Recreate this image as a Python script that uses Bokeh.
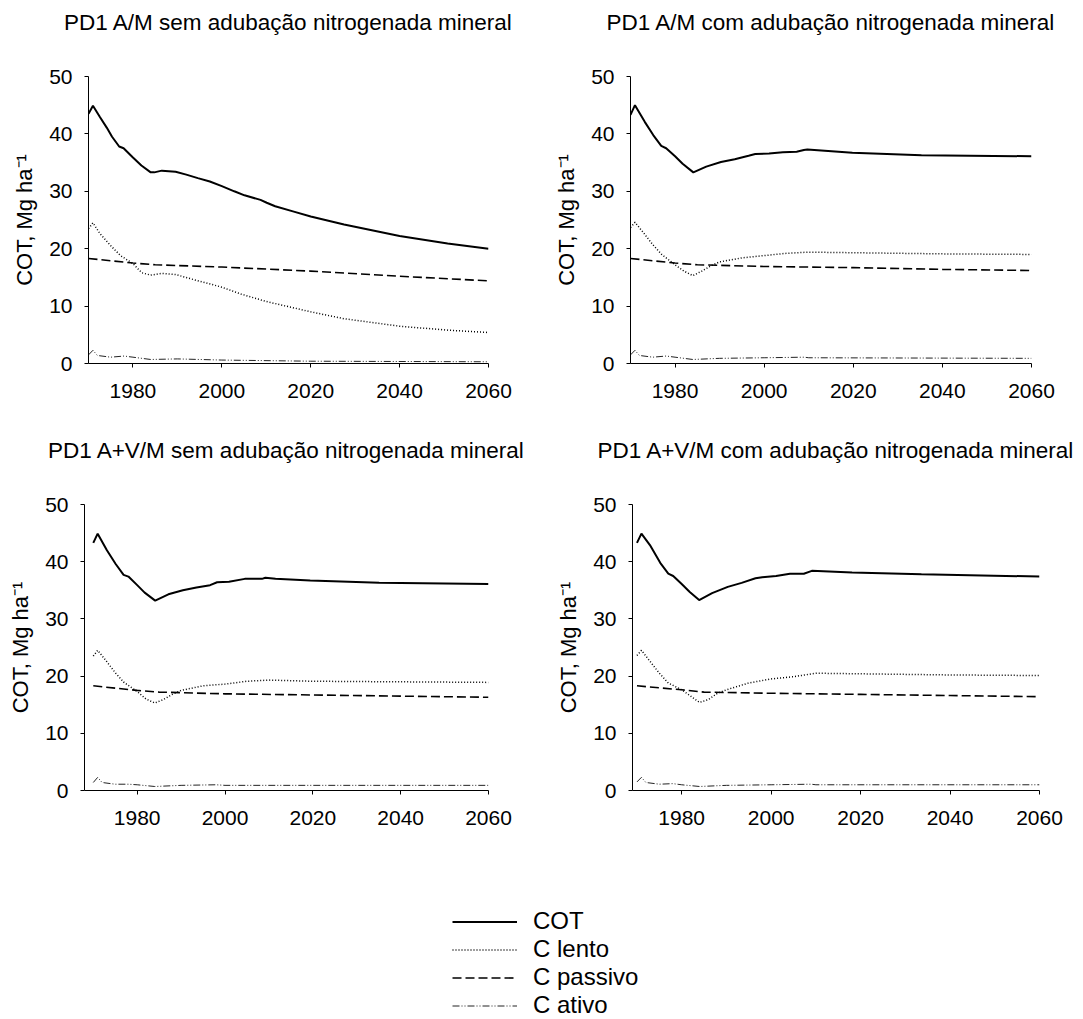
from bokeh.plotting import figure
from bokeh.models import Range1d, FixedTicker, Legend, LegendItem, Title
from bokeh.layouts import column, row
from bokeh.embed import file_html
from bokeh.resources import INLINE

FONT = "Liberation Sans"
TITLES = [
    "PD1 A/M sem adubação nitrogenada mineral",
    "PD1 A/M com adubação nitrogenada mineral",
    "PD1 A+V/M sem adubação nitrogenada mineral",
    "PD1 A+V/M com adubação nitrogenada mineral",
]
Y_LABEL = "COT, Mg ha⁻¹"
X_TICKS = [1980, 2000, 2020, 2040, 2060]
Y_TICKS = [0, 10, 20, 30, 40, 50]
SERIES = ["COT", "C lento", "C passivo", "C ativo"]

# ---- Panel 1: A/M sem adubação ----
p1_cot_x = [1970, 1971, 1972.6, 1974.1, 1975.3, 1976.9, 1977.9, 1980, 1981.9, 1984, 1984.8, 1986.5, 1989.6, 1992, 1994.6, 1997.3, 2000, 2002.8, 2005.1, 2008.7, 2010.1, 2012, 2016, 2020, 2027.5, 2040, 2050.8, 2060]
p1_cot_y = [43.5, 44.9, 42.9, 41.1, 39.5, 37.8, 37.5, 35.9, 34.5, 33.3, 33.3, 33.6, 33.4, 32.9, 32.3, 31.7, 30.9, 30.0, 29.3, 28.5, 28.0, 27.4, 26.5, 25.6, 24.2, 22.2, 20.9, 20.0]
p1_lento_x = [1970, 1971, 1972.6, 1974.9, 1977.2, 1980, 1982, 1984, 1986.5, 1989.6, 1994.2, 2000, 2004.3, 2010, 2020, 2027.5, 2040, 2051, 2060]
p1_lento_y = [23.5, 24.5, 22.6, 20.6, 18.8, 17.4, 15.8, 15.4, 15.7, 15.5, 14.5, 13.3, 12.1, 10.8, 9.0, 7.8, 6.5, 5.8, 5.4]
p1_pass_x = [1970, 1980, 1985, 2000, 2020, 2040, 2060]
p1_pass_y = [18.3, 17.5, 17.2, 16.8, 16.1, 15.2, 14.4]
p1_ativo_x = [1970, 1971, 1972, 1975, 1978, 1980, 1984, 1990, 2000, 2020, 2060]
p1_ativo_y = [1.5, 2.3, 1.4, 1.1, 1.3, 1.1, 0.7, 0.8, 0.6, 0.4, 0.3]

# ---- Panel 2: A/M com adubação ----
p2_cot_x = [1970, 1971, 1973.2, 1975.1, 1976.9, 1978, 1980, 1981.7, 1984.1, 1987, 1990.3, 1993.4, 1996.5, 1998, 2001.1, 2004.2, 2007.3, 2008.9, 2009.7, 2019.8, 2035.3, 2060]
p2_cot_y = [43.3, 45.0, 42.1, 39.8, 37.9, 37.5, 36.1, 34.8, 33.3, 34.3, 35.1, 35.6, 36.2, 36.5, 36.6, 36.8, 36.9, 37.2, 37.3, 36.7, 36.3, 36.1]
p2_lento_x = [1970, 1971, 1973, 1975, 1977, 1980, 1982, 1984, 1986, 1988, 1990, 1995, 2000, 2005, 2010, 2020, 2040, 2060]
p2_lento_y = [23.7, 24.6, 22.7, 20.7, 19.0, 17.2, 16.1, 15.3, 16.1, 17.0, 17.7, 18.4, 18.8, 19.2, 19.4, 19.3, 19.1, 19.0]
p2_pass_x = [1970, 1980, 1985, 2000, 2010, 2020, 2040, 2060]
p2_pass_y = [18.3, 17.5, 17.2, 16.9, 16.8, 16.7, 16.4, 16.2]
p2_ativo_x = [1970, 1971, 1972, 1975, 1978, 1980, 1984, 1990, 2000, 2009, 2010, 2060]
p2_ativo_y = [1.5, 2.3, 1.4, 1.1, 1.3, 1.1, 0.7, 0.9, 1.0, 1.1, 1.0, 0.9]

# ---- Panel 3: A+V/M sem adubação ----
p3_cot_x = [1970, 1971, 1973.1, 1975.1, 1976.9, 1978, 1980, 1981.7, 1984.1, 1987.1, 1990.4, 1993.5, 1996.6, 1998.2, 2000.9, 2004.5, 2008.4, 2009.2, 2011.5, 2019.4, 2035.1, 2060]
p3_cot_y = [43.3, 44.9, 42.0, 39.6, 37.7, 37.4, 35.9, 34.6, 33.2, 34.3, 35.0, 35.5, 35.9, 36.4, 36.5, 37.0, 37.0, 37.2, 37.0, 36.7, 36.3, 36.1]
p3_lento_x = [1970, 1971, 1973, 1975, 1977, 1980, 1982, 1984, 1986, 1988, 1990, 1995, 2000, 2005, 2010, 2020, 2040, 2060]
p3_lento_y = [23.5, 24.5, 22.6, 20.6, 18.9, 17.3, 16.0, 15.3, 15.9, 16.8, 17.5, 18.3, 18.6, 19.1, 19.3, 19.1, 19.0, 18.9]
p3_pass_x = [1970, 1980, 1985, 2000, 2020, 2040, 2060]
p3_pass_y = [18.3, 17.5, 17.2, 16.9, 16.7, 16.5, 16.3]
p3_ativo_x = [1970, 1971, 1972, 1975, 1978, 1980, 1984, 1990, 1998, 2000, 2060]
p3_ativo_y = [1.4, 2.3, 1.4, 1.1, 1.1, 1.0, 0.7, 0.9, 1.0, 0.9, 0.9]

# ---- Panel 4: A+V/M com adubação ----
p4_cot_x = [1970, 1971, 1972.9, 1975.2, 1977, 1978.1, 1980, 1981.8, 1983.9, 1986.8, 1990.3, 1993.4, 1996.5, 1998, 2001.1, 2004.2, 2007.3, 2009.1, 2018.1, 2033.6, 2060]
p4_cot_y = [43.3, 44.9, 42.9, 39.8, 37.9, 37.5, 36.1, 34.7, 33.3, 34.5, 35.6, 36.3, 37.1, 37.3, 37.5, 37.9, 37.9, 38.4, 38.1, 37.8, 37.4]
p4_lento_x = [1970, 1971, 1973, 1975, 1977, 1980, 1982, 1984, 1986, 1988, 1990, 1995, 2000, 2005, 2010, 2020, 2040, 2060]
p4_lento_y = [23.6, 24.5, 22.5, 20.5, 18.8, 17.6, 16.5, 15.4, 15.9, 17.0, 17.6, 18.8, 19.5, 19.9, 20.5, 20.4, 20.2, 20.1]
p4_pass_x = [1970, 1980, 1985, 2000, 2020, 2040, 2060]
p4_pass_y = [18.3, 17.6, 17.2, 17.0, 16.8, 16.6, 16.4]
p4_ativo_x = [1970, 1971, 1972, 1975, 1978, 1980, 1984, 1990, 2000, 2009, 2010, 2060]
p4_ativo_y = [1.5, 2.3, 1.4, 1.1, 1.2, 1.0, 0.7, 0.9, 1.0, 1.1, 1.0, 1.0]

STYLES = {
    "COT": dict(line_color="black", line_width=2),
    "C lento": dict(line_color="black", line_width=1.5, line_dash="1 2"),
    "C passivo": dict(line_color="black", line_width=1.6, line_dash="9 4"),
    "C ativo": dict(line_color="#222222", line_width=1, line_dash="7 2 1 2 1 2"),
}


def make_panel(title, x_start, width, height, bl, br, bt, bb, series):
    p = figure(width=width, height=height, x_range=Range1d(x_start, 2060),
               y_range=Range1d(0, 50), output_backend="svg", toolbar_location=None,
               min_border_left=bl, min_border_right=br, min_border_top=bt,
               min_border_bottom=bb, title=None)
    p.outline_line_color = None
    p.xgrid.visible = False
    p.ygrid.visible = False
    # spacer between frame and title, then the title itself
    p.add_layout(Title(text=" ", text_font_size="2px", standoff=38), "above")
    p.add_layout(Title(text=title, align="center", vertical_align="bottom",
                       text_font=FONT, text_font_size="22.5px", text_font_style="normal",
                       text_color="black", standoff=0), "above")
    p.xaxis.ticker = FixedTicker(ticks=X_TICKS)
    p.yaxis.ticker = FixedTicker(ticks=Y_TICKS)
    p.yaxis.axis_label = Y_LABEL
    for ax in (p.xaxis, p.yaxis):
        ax.axis_line_color = "black"
        ax.axis_line_width = 1
        ax.major_tick_line_color = "black"
        ax.major_tick_out = 4
        ax.major_tick_in = 0
        ax.minor_tick_out = 0
        ax.minor_tick_in = 0
        ax.major_label_text_font = FONT
        ax.major_label_text_font_size = "21px"
        ax.major_label_text_color = "black"
        ax.axis_label_text_font = FONT
        ax.axis_label_text_font_size = "22px"
        ax.axis_label_text_font_style = "normal"
        ax.axis_label_text_color = "black"
        ax.axis_label_standoff = 9
    p.xaxis.major_label_standoff = 16
    p.yaxis.major_label_standoff = 12
    for name, (xs, ys) in zip(SERIES, series):
        p.line(xs, ys, **STYLES[name])
    return p


p1 = make_panel(TITLES[0], 1970, 544, 425, 88, 56, 76, 62,
                [(p1_cot_x, p1_cot_y), (p1_lento_x, p1_lento_y), (p1_pass_x, p1_pass_y), (p1_ativo_x, p1_ativo_y)])
p2 = make_panel(TITLES[1], 1970, 536, 425, 86, 49, 76, 62,
                [(p2_cot_x, p2_cot_y), (p2_lento_x, p2_lento_y), (p2_pass_x, p2_pass_y), (p2_ativo_x, p2_ativo_y)])
p3 = make_panel(TITLES[2], 1968, 544, 430, 84, 56, 77, 65,
                [(p3_cot_x, p3_cot_y), (p3_lento_x, p3_lento_y), (p3_pass_x, p3_pass_y), (p3_ativo_x, p3_ativo_y)])
p4 = make_panel(TITLES[3], 1969, 536, 430, 88, 41, 79, 58,
                [(p4_cot_x, p4_cot_y), (p4_lento_x, p4_lento_y), (p4_pass_x, p4_pass_y), (p4_ativo_x, p4_ativo_y)])

# ---- Legend ----
NAN = float("nan")
pl = figure(width=1080, height=164, x_range=Range1d(0, 1), y_range=Range1d(0, 1),
            output_backend="svg", toolbar_location=None,
            x_axis_location=None, y_axis_location=None,
            min_border_left=0, min_border_right=0, min_border_top=0, min_border_bottom=0)
pl.outline_line_color = None
pl.xgrid.visible = False
pl.ygrid.visible = False
items = []
for name in SERIES:
    r = pl.line([NAN], [NAN], **STYLES[name])
    items.append(LegendItem(label=name, renderers=[r]))
legend = Legend(items=items, location=(452, 0), orientation="vertical",
                label_text_font=FONT, label_text_font_size="24px",
                label_text_color="black", glyph_width=65, glyph_height=27,
                label_height=27, label_standoff=16, spacing=0, padding=0,
                margin=0, border_line_color=None, background_fill_alpha=0)
pl.add_layout(legend, "center")

layout = column(row(p1, p2), row(p3, p4), pl)
open("out.html", "w").write(file_html(layout, INLINE))
